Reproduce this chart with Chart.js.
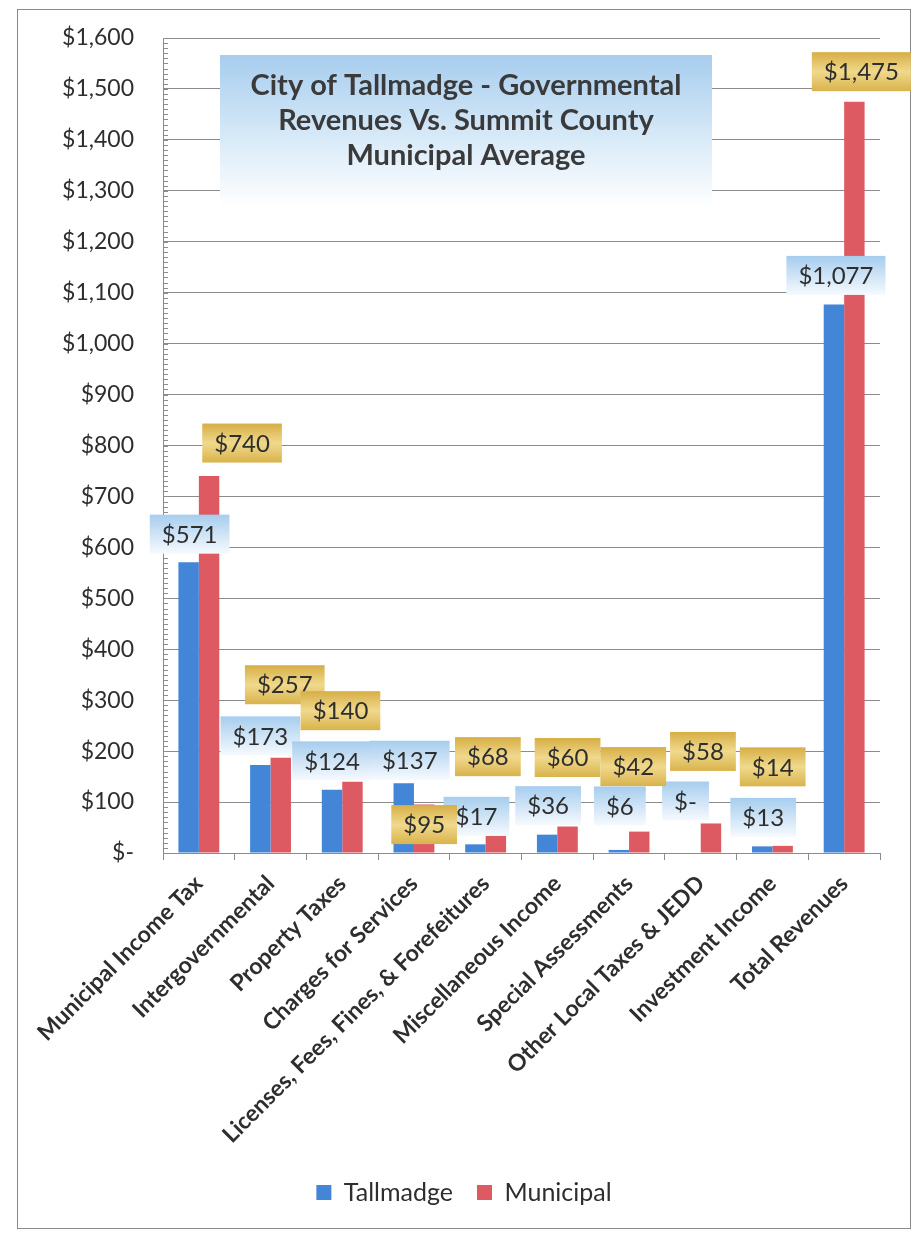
<!DOCTYPE html>
<html>
<head>
<meta charset="utf-8">
<title>City of Tallmadge - Governmental Revenues</title>
<script src="https://cdn.jsdelivr.net/npm/chart.js@4.4.1/dist/chart.umd.min.js"></script>
<style>
  html, body { margin: 0; padding: 0; background: #fff; }
  #wrap { width: 918px; height: 1233px; position: relative; }
</style>
</head>
<body>
<div id="wrap"><canvas id="revenueChart"></canvas></div>
<script>
// data (bar heights + the printed labels)
const categories = [
    'Municipal Income Tax',
    'Intergovernmental',
    'Property Taxes',
    'Charges for Services',
    'Licenses, Fees, Fines, & Forefeitures',
    'Miscellaneous Income',
    'Special Assessments',
    'Other Local Taxes & JEDD',
    'Investment Income',
    'Total Revenues'
];
const tallmadgeValues = [571, 173, 124, 137, 17, 36, 6, 0, 13, 1077];
const municipalValues = [740, 187, 140, 95, 34, 52, 42, 58, 14, 1475];
const tallmadgeLabels = ['$571', '$173', '$124', '$137', '$17', '$36', '$6', '$-', '$13', '$1,077'];
const municipalLabels = ['$740', '$257', '$140', '$95', '$68', '$60', '$42', '$58', '$14', '$1,475'];
const yMin = 0;
const yMax = 1600;
const yStep = 100;

// where each label box sits relative to the top of its bar (px)
const tallmadgeLabelShift = [[1, -28], [0, -29], [0, -29], [6, -23], [1, -28], [1, -29], [1, -44], [-5, -52], [1, -29], [2, -29]];
const municipalLabelShift = [[33, -33], [4, -73], [-12, -71], [0, 20], [-8, -79], [0, -69], [-6, -65], [-8, -72], [-10, -79], [7, -30]];

const textColor = '#2e2e2e';
const gridColor = '#8c8c8c';

function moneyTick(v) {
    if (v === 0) return '$-';
    return '$' + v.toLocaleString('en-US');
}

function drawTag(ctx, text, cx, cy, kind) {
    ctx.font = '24px Lato';
    const w = ctx.measureText(text).width + 24;
    const h = 39;
    const x = cx - w / 2;
    const y = cy - h / 2;
    const g = ctx.createLinearGradient(0, y, 0, y + h);
    if (kind === 'blue') {
        g.addColorStop(0, '#a6cdee');
        g.addColorStop(1, '#f6fafe');
    } else {
        g.addColorStop(0, '#d6ae45');
        g.addColorStop(0.5, '#f0d98c');
        g.addColorStop(1, '#d9b34c');
    }
    ctx.fillStyle = g;
    ctx.fillRect(x, y, w, h);
    ctx.fillStyle = textColor;
    ctx.textAlign = 'center';
    ctx.textBaseline = 'middle';
    ctx.fillText(text, cx, cy + 1);
}

const pageFrame = {
    id: 'pageFrame',
    beforeDraw(chart) {
        const ctx = chart.ctx;
        ctx.save();
        ctx.fillStyle = '#fff';
        ctx.fillRect(0, 0, chart.width, chart.height);
        ctx.strokeStyle = '#8a8a8a';
        ctx.lineWidth = 1;
        ctx.strokeRect(17.5, 9.5, 893, 1219);
        ctx.restore();
    }
};

// nudge the legend a little right, the original isn't centred on the page
const legendNudge = {
    id: 'legendNudge',
    afterLayout(chart) {
        if (chart.legend) {
            chart.legend.left += 14;
            chart.legend.right += 14;
        }
    }
};

// small inner ticks along the value axis, like the Excel minor marks
const minorTicks = {
    id: 'minorTicks',
    afterDraw(chart) {
        const ctx = chart.ctx;
        const y = chart.scales.y;
        const left = chart.chartArea.left;
        ctx.save();
        ctx.strokeStyle = gridColor;
        ctx.lineWidth = 1;
        ctx.beginPath();
        for (let v = yMin; v <= yMax; v += 10) {
            const py = Math.round(y.getPixelForValue(v)) + 0.5;
            ctx.moveTo(left, py);
            ctx.lineTo(left + 5, py);
        }
        ctx.stroke();
        ctx.restore();
    }
};

const titleBox = {
    id: 'titleBox',
    afterDraw(chart) {
        const ctx = chart.ctx;
        const area = chart.chartArea;
        const bx = area.left + 57, by = 55, bw = 492, bh = 152;
        ctx.save();
        const g = ctx.createLinearGradient(0, by, 0, by + bh);
        g.addColorStop(0, '#a7cdee');
        g.addColorStop(0.55, '#d8eaf8');
        g.addColorStop(1, '#ffffff');
        ctx.fillStyle = g;
        ctx.fillRect(bx, by, bw, bh);
        ctx.fillStyle = '#3a3a3a';
        ctx.font = 'bold 29px Lato';
        ctx.textAlign = 'center';
        ctx.textBaseline = 'middle';
        const lines = ['City of Tallmadge - Governmental', 'Revenues Vs. Summit County', 'Municipal Average'];
        lines.forEach((t, i) => ctx.fillText(t, bx + bw / 2, 86 + i * 35));
        ctx.restore();
    }
};

const valueTags = {
    id: 'valueTags',
    afterDraw(chart) {
        const ctx = chart.ctx;
        ctx.save();
        const sets = [
            { meta: chart.getDatasetMeta(0), texts: tallmadgeLabels, shift: tallmadgeLabelShift, kind: 'blue' },
            { meta: chart.getDatasetMeta(1), texts: municipalLabels, shift: municipalLabelShift, kind: 'gold' }
        ];
        sets.forEach(s => {
            s.meta.data.forEach((bar, i) => {
                drawTag(ctx, s.texts[i], bar.x + s.shift[i][0], bar.y + s.shift[i][1], s.kind);
            });
        });
        ctx.restore();
    }
};

const ctx = document.getElementById('revenueChart').getContext('2d');
new Chart(ctx, {
    type: 'bar',
    data: {
        labels: categories,
        datasets: [
            {
                label: 'Tallmadge',
                data: tallmadgeValues,
                backgroundColor: '#4385d6',
                borderWidth: 0,
                categoryPercentage: 0.57,
                barPercentage: 1.0
            },
            {
                label: 'Municipal',
                data: municipalValues,
                backgroundColor: '#dd5a63',
                borderWidth: 0,
                categoryPercentage: 0.57,
                barPercentage: 1.0
            }
        ]
    },
    options: {
        responsive: true,
        maintainAspectRatio: false,
        animation: false,
        layout: {
            padding: { left: 20, right: 38, top: 38, bottom: 18 }
        },
        plugins: {
            legend: {
                position: 'bottom',
                labels: {
                    boxWidth: 15,
                    boxHeight: 15,
                    padding: 24,
                    color: textColor,
                    font: { family: 'Lato', size: 25 }
                }
            },
            tooltip: { enabled: false }
        },
        scales: {
            x: {
                grid: {
                    display: true,
                    drawOnChartArea: false,
                    drawTicks: true,
                    tickLength: 7,
                    color: gridColor,
                    offset: true
                },
                border: { color: gridColor },
                ticks: {
                    autoSkip: false,
                    maxRotation: 45,
                    minRotation: 45,
                    padding: 10,
                    color: textColor,
                    font: { family: 'Lato', size: 23, weight: 'bold' }
                },
                afterFit: scale => { scale.height = 303; }
            },
            y: {
                min: yMin,
                max: yMax,
                grid: {
                    color: gridColor,
                    drawTicks: true,
                    tickLength: 24,
                    tickColor: 'transparent'
                },
                border: { color: gridColor },
                ticks: {
                    stepSize: yStep,
                    padding: 5,
                    color: textColor,
                    font: { family: 'Lato', size: 23 },
                    callback: moneyTick
                },
                afterFit: scale => { scale.width = 143; }
            }
        }
    },
    plugins: [pageFrame, legendNudge, minorTicks, titleBox, valueTags]
});
</script>
</body>
</html>
